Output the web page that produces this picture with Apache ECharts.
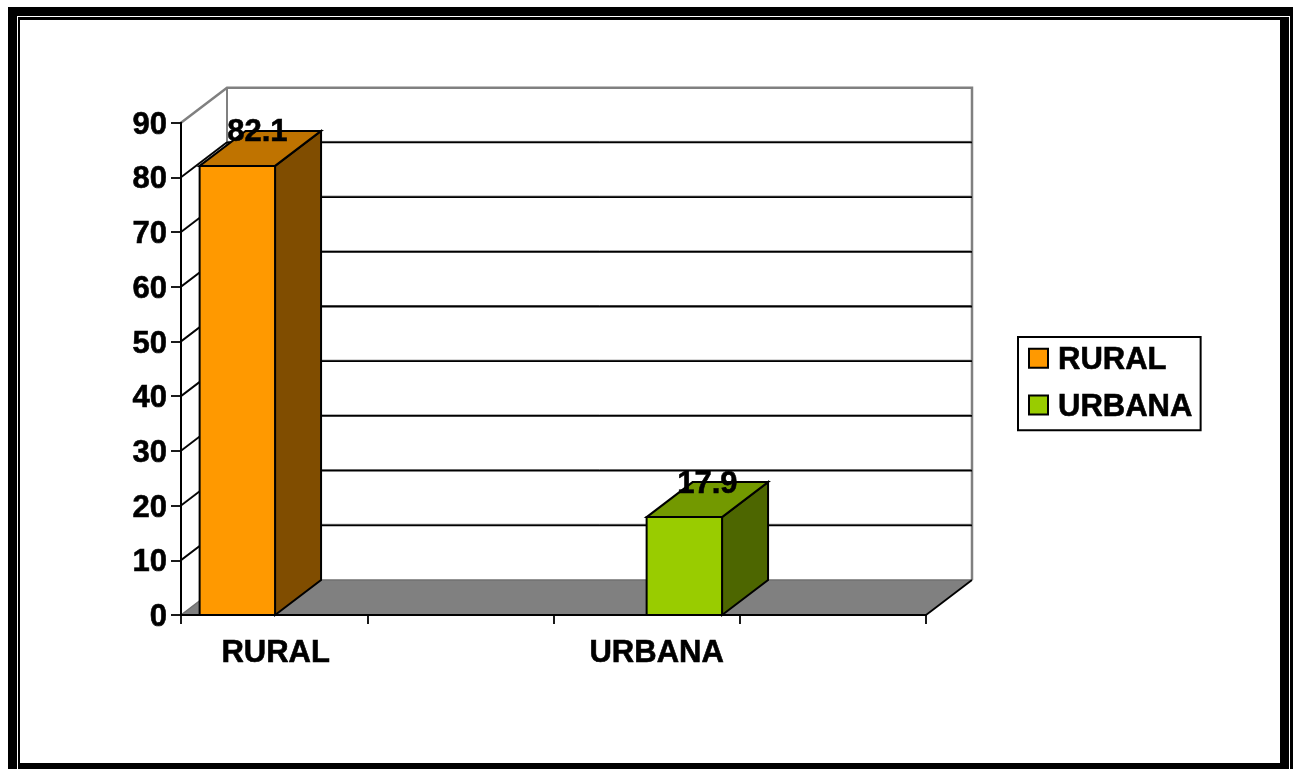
<!DOCTYPE html>
<html>
<head>
<meta charset="utf-8">
<style>html,body{margin:0;padding:0;background:#fff}#c{width:1296px;height:769px}</style>
<script src="https://cdn.jsdelivr.net/npm/echarts@6/dist/echarts.min.js"></script>
</head>
<body>
<div id="c"></div>
<script>
const categories = ['RURAL', '', 'URBANA', ''];
const ruralValues = [[0, 82.1]];
const urbanaValues = [[2, 17.9]];
const gridValues = [10, 20, 30, 40, 50, 60, 70, 80];
const FAMILY = '"Liberation Sans", Arial, sans-serif';
const FONT = 'bold 31px ' + FAMILY;
const DX = 46, DY = -35;
const heavy = { fontFamily: FAMILY, fontWeight: 'bold', fontSize: 31, color: '#000', textBorderColor: '#000', textBorderWidth: 0.6 };

function wallItem(params, api) {
  const cs = params.coordSys;
  const p = api.coord([0, api.value(0)]);
  const y = p[1], l = cs.x, r = cs.x + cs.width;
  const pts = [[l, y], [l + DX, y + DY], [r + DX, y + DY]];
  return { type: 'group', silent: true, children: [
    { type: 'polyline', shape: { points: pts.map(q => [q[0], q[1] - 1]) }, style: { fill: null, stroke: '#808080', lineWidth: 1 } },
    { type: 'polyline', shape: { points: pts }, style: { fill: null, stroke: '#000', lineWidth: 1.8 } }
  ]};
}

function frameItem(params) {
  const cs = params.coordSys;
  const l = cs.x, r = cs.x + cs.width, t = cs.y, b = cs.y + cs.height;
  return { type: 'group', silent: true, children: [
    { type: 'polygon', shape: { points: [[l, b], [r, b], [r + DX, b + DY], [l + DX, b + DY]] }, style: { fill: '#808080' } },
    { type: 'polyline', shape: { points: [[l, b], [l + DX, b + DY], [r + DX, b + DY]] }, style: { fill: null, stroke: '#707070', lineWidth: 1.5 } },
    { type: 'polyline', shape: { points: [[l, t], [l + DX, t + DY], [r + DX, t + DY], [r + DX, b + DY]] }, style: { fill: null, stroke: '#808080', lineWidth: 2.5 } },
    { type: 'line', shape: { x1: l + DX, y1: t + DY, x2: l + DX, y2: b + DY }, style: { stroke: '#808080', lineWidth: 2 } },
    { type: 'line', shape: { x1: r, y1: b, x2: r + DX, y2: b + DY }, style: { stroke: '#000', lineWidth: 1.8 } }
  ]};
}

function barRenderer(slotStart, front, top, side, labelShift) {
  return function (params, api) {
    const cat = api.value(0), val = api.value(1);
    const band = api.size([1, 0])[0];
    const topC = api.coord([cat, val]), base = api.coord([cat, 0]);
    const x0 = topC[0] - band / 2 + band * slotStart;
    const x1 = x0 + band * 0.405;
    const yT = topC[1], yB = base[1];
    const line = { stroke: '#000', lineWidth: 2, lineJoin: 'miter' };
    return { type: 'group', children: [
      { type: 'polygon', shape: { points: [[x1, yT], [x1 + DX, yT + DY], [x1 + DX, yB + DY], [x1, yB]] }, style: Object.assign({ fill: side }, line) },
      { type: 'polygon', shape: { points: [[x0, yT], [x0 + DX, yT + DY], [x1 + DX, yT + DY], [x1, yT]] }, style: Object.assign({ fill: top }, line) },
      { type: 'rect', shape: { x: x0, y: yT, width: x1 - x0, height: yB - yT }, style: Object.assign({ fill: front }, line) },
      { type: 'text', style: { text: String(val), x: (x0 + x1) / 2 + labelShift, y: yT - 33, align: 'center', verticalAlign: 'middle', font: FONT, fill: '#000', stroke: '#000', lineWidth: 0.6 } }
    ]};
  };
}

const chart = echarts.init(document.getElementById('c'), null, { renderer: 'canvas' });
chart.setOption({
  animation: false,
  backgroundColor: '#fff',
  grid: { left: 181, right: 370, top: 122.7, bottom: 154, containLabel: false },
  legend: {
    data: ['RURAL', 'URBANA'],
    orient: 'vertical',
    left: 1018, top: 337,
    padding: [8, 8, 7, 10],
    itemWidth: 19, itemHeight: 19, itemGap: 15,
    icon: 'rect',
    backgroundColor: '#fff',
    borderColor: '#000', borderWidth: 2,
    selectedMode: false,
    itemStyle: { borderColor: '#000', borderWidth: 2 },
    textStyle: Object.assign({ padding: [0, 0, 0, 5] }, heavy, {
      rich: { a: Object.assign({ padding: [5, 0, 0, 0] }, heavy) }
    }),
    formatter: function (name) { return '{a|' + name + '}'; }
  },
  xAxis: {
    type: 'category', data: categories, z: 5,
    axisLine: { onZero: false, lineStyle: { color: '#000', width: 2 } },
    axisTick: { show: true, interval: 0, length: 9, alignWithLabel: false, lineStyle: { color: '#000', width: 1.8 } },
    axisLabel: Object.assign({
      interval: 0, margin: 23,
      formatter: function (v) { return v === 'URBANA' ? '{u|URBANA}' : v === 'RURAL' ? '{r|RURAL}' : ''; },
      rich: {
        u: Object.assign({ padding: [0, 0, 0, 20] }, heavy),
        r: Object.assign({ padding: [0, 0, 0, 3] }, heavy)
      }
    }, heavy),
    splitLine: { show: false }
  },
  yAxis: {
    type: 'value', min: 0, max: 90, interval: 10, z: 5,
    axisLine: { show: true, lineStyle: { color: '#000', width: 2 } },
    axisTick: { show: true, length: 10, lineStyle: { color: '#000', width: 1.8 } },
    axisLabel: Object.assign({
      margin: 14,
      formatter: '{n|{value}}',
      rich: { n: Object.assign({ padding: [5, 0, 0, 0] }, heavy) }
    }, heavy),
    splitLine: { show: false }
  },
  series: [
    { type: 'custom', name: 'walls', silent: true, z: 1, clip: false, data: [0], encode: { y: 0 }, renderItem: frameItem },
    { type: 'custom', name: 'gridlines', silent: true, z: 2, clip: false, data: gridValues, encode: { y: 0 }, renderItem: wallItem },
    { type: 'custom', name: 'RURAL', z: 3, clip: false, data: ruralValues, itemStyle: { color: '#FF9900' }, encode: { x: 0, y: 1 }, renderItem: barRenderer(0.1, '#FF9900', '#BF7300', '#804D00', 20) },
    { type: 'custom', name: 'URBANA', z: 3, clip: false, data: urbanaValues, itemStyle: { color: '#99CC00' }, encode: { x: 0, y: 1 }, renderItem: barRenderer(0.5, '#99CC00', '#739900', '#4D6600', 23) }
  ],
  graphic: [
    { type: 'rect', z: 100, silent: true, shape: { x: 8, y: 7, width: 9, height: 762 }, style: { fill: '#000' } },
    { type: 'rect', z: 100, silent: true, shape: { x: 18, y: 17, width: 2, height: 752 }, style: { fill: '#000' } },
    { type: 'rect', z: 100, silent: true, shape: { x: 8, y: 7, width: 1285, height: 9 }, style: { fill: '#000' } },
    { type: 'rect', z: 100, silent: true, shape: { x: 18, y: 17, width: 1271, height: 3 }, style: { fill: '#000' } },
    { type: 'rect', z: 100, silent: true, shape: { x: 1280, y: 17, width: 9, height: 752 }, style: { fill: '#000' } },
    { type: 'rect', z: 100, silent: true, shape: { x: 1290, y: 7, width: 3, height: 762 }, style: { fill: '#000' } },
    { type: 'rect', z: 100, silent: true, shape: { x: 18, y: 763, width: 1271, height: 6 }, style: { fill: '#000' } }
  ]
});
</script>
</body>
</html>
